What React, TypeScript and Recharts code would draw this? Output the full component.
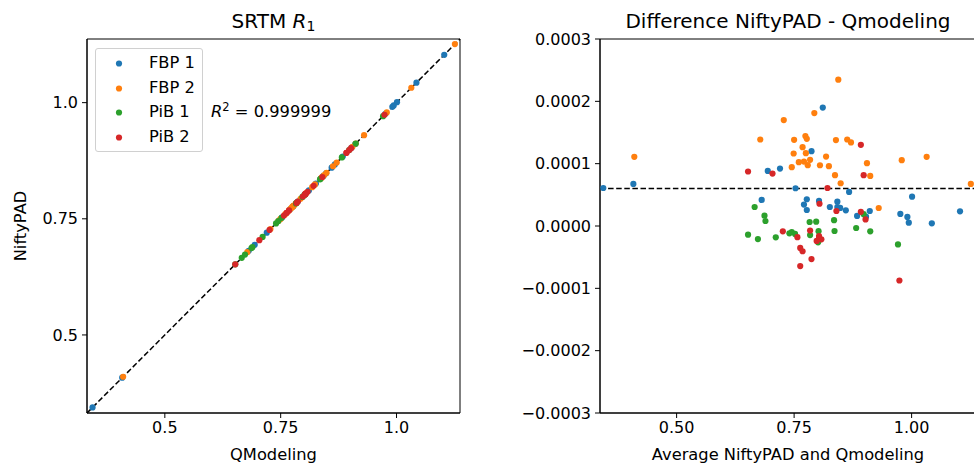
import React from "react";

import { ReferenceArea, ReferenceLine, Scatter, ScatterChart, XAxis, YAxis } from "recharts";


const GROUPS = ["FBP 1", "FBP 2", "PiB 1", "PiB 2"];
const COLORS = ["#1f77b4", "#ff7f0e", "#2ca02c", "#d62728"];

// average of NiftyPAD and Qmodeling R1, per region
const FBP1_AVG = [0.344, 0.408, 0.811, 0.787, 0.694, 0.72, 0.753, 0.681, 0.777, 0.771, 0.777, 0.803, 0.826, 0.842, 0.842, 0.848, 0.86, 0.867, 0.884, 0.903, 0.911, 1.001, 0.976, 0.991, 0.994, 1.043, 1.103];
const FBP2_AVG = [0.41, 0.678, 0.728, 0.75, 0.749, 0.745, 0.76, 0.768, 0.771, 0.774, 0.777, 0.775, 0.779, 0.784, 0.793, 0.805, 0.818, 0.824, 0.839, 0.844, 0.837, 0.849, 0.863, 0.871, 0.905, 0.912, 0.93, 0.979, 1.032, 1.126];
const PIB1_AVG = [0.652, 0.666, 0.673, 0.687, 0.689, 0.711, 0.74, 0.745, 0.752, 0.783, 0.784, 0.797, 0.802, 0.801, 0.835, 0.836, 0.882, 0.898, 0.912, 0.971];
const PIB2_AVG = [0.652, 0.704, 0.821, 0.892, 0.898, 0.804, 0.84, 0.892, 0.902, 0.726, 0.757, 0.763, 0.768, 0.787, 0.763, 0.784, 0.803, 0.798, 0.808, 0.803, 0.974];

// NiftyPAD - Qmodeling, in units of 1e-4
const FBP1_DIFF = [0.61, 0.675, 1.9, 1.2, 0.884, 0.922, 0.606, 0.418, 0.429, 0.343, 0.257, 0.402, 0.305, 0.39, 0.305, 0.29, 0.252, 0.547, 0.161, 0.15, 0.241, 0.471, 0.193, 0.145, 0.053, 0.043, 0.236];
const FBP2_DIFF = [1.109, 1.388, 1.699, 1.383, 1.163, 0.943, 1.024, 1.265, 1.034, 1.442, 1.399, 1.168, 0.976, 1.061, 1.811, 0.975, 1.114, 0.96, 1.378, 2.347, 0.815, 0.686, 1.388, 1.34, 1.008, 0.804, 0.289, 1.056, 1.109, 0.675];
const PIB1_DIFF = [-0.139, 0.305, -0.209, 0.166, 0.08, -0.182, -0.118, -0.096, -0.127, 0.064, -0.145, 0.07, -0.083, -0.262, 0.093, -0.08, -0.032, 0.19, -0.086, -0.295];
const PIB2_DIFF = [0.874, 0.841, 0.61, 1.302, 0.815, 0.357, 0.241, 0.228, 0.105, -0.086, -0.18, -0.352, -0.405, -0.531, -0.643, -0.072, -0.161, -0.24, -0.214, -0.198, -0.874];

const DIFF_UNIT = 1e-4;
const MEAN_DIFF = 0.6e-4;
const R2_VALUE = "0.999999";

const LEFT_DOMAIN = [0.332, 1.137];
const LEFT_TICKS = [0.5, 0.75, 1.0];
const RIGHT_X_DOMAIN = [0.337, 1.137];
const RIGHT_X_TICKS = [0.5, 0.75, 1.0];
const RIGHT_Y_DOMAIN = [-0.0003, 0.0003];
const RIGHT_Y_TICKS = [-0.0003, -0.0002, -0.0001, 0, 0.0001, 0.0002, 0.0003];

const AVGS = [FBP1_AVG, FBP2_AVG, PIB1_AVG, PIB2_AVG];
const DIFFS = [FBP1_DIFF, FBP2_DIFF, PIB1_DIFF, PIB2_DIFF];

const FONT = "'DejaVu Sans', sans-serif";
const DASH = "5.5 2.6";

// left: Qmodeling vs NiftyPAD, right: average vs difference
const leftData = AVGS.map((avgs, g) =>
  avgs.map((avg, i) => {
    const d = DIFFS[g][i] * DIFF_UNIT;
    return { x: avg - d / 2, y: avg + d / 2 };
  })
);
const rightData = AVGS.map((avgs, g) => avgs.map((avg, i) => ({ x: avg, y: DIFFS[g][i] * DIFF_UNIT })));

const dot = (color: string) => (props: any) => <circle cx={props.cx} cy={props.cy} r={3.1} fill={color} />;

const fmtLeft = (v: number) => (v === 1 ? "1.0" : String(v));
const fmtTwo = (v: number) => v.toFixed(2);
const fmtDiff = (v: number) => (v < 0 ? "\u2212" : "") + Math.abs(v).toFixed(4);

const axisProps = {
  type: "number" as const,
  allowDataOverflow: true,
  stroke: "#000",
  tickSize: 5,
  tick: { fill: "#000", fontSize: 16 },
  tickLine: { stroke: "#000" },
};

const txt: React.CSSProperties = { position: "absolute", fontSize: 16, lineHeight: "16px", whiteSpace: "nowrap", color: "#000" };

const SrtmChart = () => (
  <div style={{ position: "absolute", left: 0, top: 0 }}>
    <ScatterChart width={474} height={465} margin={{ top: 39, right: 14, bottom: 22, left: 27 }}>
      <XAxis {...axisProps} dataKey="x" domain={LEFT_DOMAIN} ticks={LEFT_TICKS} tickFormatter={fmtLeft} height={30} tickMargin={4} />
      <YAxis {...axisProps} dataKey="y" domain={LEFT_DOMAIN} ticks={LEFT_TICKS} tickFormatter={fmtLeft} width={60} tickMargin={4} />
      <ReferenceArea x1={LEFT_DOMAIN[0]} x2={LEFT_DOMAIN[1]} y1={LEFT_DOMAIN[0]} y2={LEFT_DOMAIN[1]} fill="none" stroke="#000" fillOpacity={0} />
      {leftData.map((data, g) => (
        <Scatter key={GROUPS[g]} name={GROUPS[g]} data={data} fill={COLORS[g]} shape={dot(COLORS[g])} isAnimationActive={false} />
      ))}
      <ReferenceLine
        segment={[{ x: LEFT_DOMAIN[0], y: LEFT_DOMAIN[0] }, { x: LEFT_DOMAIN[1], y: LEFT_DOMAIN[1] }]}
        stroke="#000"
        strokeWidth={1.5}
        strokeDasharray={DASH}
      />
    </ScatterChart>
  </div>
);

const DiffChart = () => (
  <div style={{ position: "absolute", left: 480, top: 0 }}>
    <ScatterChart width={500} height={465} margin={{ top: 39, right: 4, bottom: 22, left: 40 }}>
      <XAxis {...axisProps} dataKey="x" domain={RIGHT_X_DOMAIN} ticks={RIGHT_X_TICKS} tickFormatter={fmtTwo} height={30} tickMargin={4} />
      <YAxis {...axisProps} dataKey="y" domain={RIGHT_Y_DOMAIN} ticks={RIGHT_Y_TICKS} tickFormatter={fmtDiff} width={80} tickMargin={4} />
      <ReferenceArea x1={RIGHT_X_DOMAIN[0]} x2={RIGHT_X_DOMAIN[1]} y1={RIGHT_Y_DOMAIN[0]} y2={RIGHT_Y_DOMAIN[1]} fill="none" stroke="#000" fillOpacity={0} />
      {rightData.map((data, g) => (
        <Scatter key={GROUPS[g]} name={GROUPS[g]} data={data} fill={COLORS[g]} shape={dot(COLORS[g])} isAnimationActive={false} />
      ))}
      <ReferenceLine y={MEAN_DIFF} stroke="#000" strokeWidth={1.5} strokeDasharray={DASH} />
    </ScatterChart>
  </div>
);

const LegendBox = () => (
  <div
    style={{
      position: "absolute",
      left: 95,
      top: 48,
      width: 106,
      height: 102,
      border: "1px solid #d0d0d0",
      borderRadius: 3,
      background: "rgba(255,255,255,0.8)",
    }}
  >
    {GROUPS.map((name, g) => (
      <div key={name} style={{ position: "absolute", left: 0, top: 6 + g * 24.7, height: 16, width: 106 }}>
        <svg width={20} height={16} style={{ position: "absolute", left: 13, top: 0 }}>
          <circle cx={10} cy={8.5} r={3.1} fill={COLORS[g]} />
        </svg>
        <span style={{ ...txt, left: 53, top: 0, fontSize: 16.3 }}>{name}</span>
      </div>
    ))}
  </div>
);

const App = () => (
  <div style={{ position: "absolute", left: 0, top: 0, width: 974, height: 465, overflow: "hidden", background: "#fff", fontFamily: FONT }}>
    <SrtmChart />
    <DiffChart />
    <div style={{ ...txt, left: 87, width: 373, top: 11, fontSize: 20, lineHeight: "20px", textAlign: "center" }}>
      SRTM <i>R</i>
      <sub style={{ fontSize: 14, verticalAlign: "-3px" }}>1</sub>
    </div>
    <div style={{ ...txt, left: 600, width: 376, top: 11, fontSize: 20, lineHeight: "20px", textAlign: "center" }}>
      Difference NiftyPAD - Qmodeling
    </div>
    <div style={{ ...txt, left: 211, top: 99, fontSize: 16.3 }}>
      <i>R</i>
      <sup style={{ fontSize: 11.5, verticalAlign: "6px" }}>2</sup>
      {" = "}
      {R2_VALUE}
    </div>
    <div style={{ ...txt, left: 87, width: 373, top: 447, textAlign: "center", fontSize: 16.3 }}>QModeling</div>
    <div style={{ ...txt, left: 600, width: 376, top: 447, textAlign: "center", fontSize: 16.3 }}>Average NiftyPAD and Qmodeling</div>
    <div style={{ ...txt, left: 21, top: 226, fontSize: 16.3, transform: "translate(-50%, -50%) rotate(-90deg)" }}>NiftyPAD</div>
    <LegendBox />
  </div>
);

export default App;
